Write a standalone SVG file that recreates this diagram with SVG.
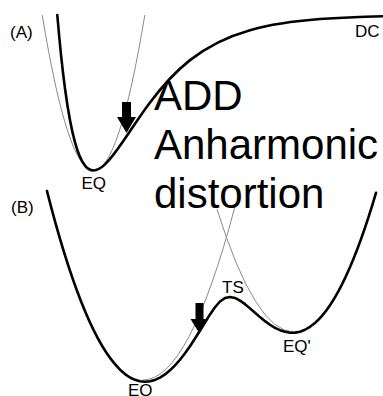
<svg xmlns="http://www.w3.org/2000/svg" width="383" height="396" viewBox="0 0 383 396">
<style>
.thin{fill:none;stroke:#8a8a8a;stroke-width:1}
.thick{fill:none;stroke:#000;stroke-width:2.6;stroke-linejoin:round;stroke-linecap:round}
.lbl{font-family:"Liberation Sans",Arial,sans-serif;font-size:17px;fill:#000}
.big{font-family:"Liberation Sans",Arial,sans-serif;font-size:42px;fill:#000}
.arr{fill:#000}
</style>
<rect width="383" height="396" fill="#fff"/>
<g id="panel-a">
<text class="lbl" x="10" y="38">(A)</text>
<path class="thin" d="M42.2,15 Q93.5,326 144.8,15"/>
<path class="thick" d="M57.3,15 C59.87,45.57 62.43,69.36 65,88.52 C68.33,113.4 71.67,130.36 75,142.39 C78.33,154.42 81.67,161.51 85,165.64 C87.83,169.15 90.67,170.5 93.5,170.5 C97.33,170.5 101.17,168.04 105,164.42 C111.67,158.12 118.33,148.44 125,138.6 C133.33,126.3 141.67,113.66 150,102.54 C163.33,84.75 176.67,70.68 190,60.14 C210,44.33 230,35.79 250,30.14 C273.33,23.55 296.67,20.83 320,19.04 C341,17.43 362,16.7 383,16.21"/>
<text class="lbl" x="81.5" y="189">EQ</text>
<text class="lbl" x="355" y="37">DC</text>
</g>
<g id="panel-b">
<text class="lbl" x="11" y="213">(B)</text>
<path class="thin" d="M143,380 Q189,380 235,206.5"/>
<path class="thin" d="M217,209.3 Q255.5,332 294,332"/>
<path class="thick" d="M47,191.1 Q81,324.9 115,364.1 L120,369.72 L125,374.08 L130,377.46 L135,379.85 L140,381.29 L145,381.76 L150,381.3 L155,379.91 L160,377.6 L165,374.4 L170,370.33 L175,365.43 L180,359.74 L185,353.31 L190,346.23 L195,338.58 L200,330.55 L205,322.38 L210,314.43 L215,307.23 L220,301.5 L225,297.95 L230,296.92 L235,297.94 L240,300.58 L245,304.17 L250,308.38 L255,312.8 L260,317.11 L265,321.15 L270,324.76 L275,327.81 L280,330.2 L285,331.84 L290,332.68 L295,332.64 L300,331.67 L305,329.75 L310,326.85 L315,322.9 Q345.5,296.35 376,192.8"/>
<text class="lbl" x="222" y="293">TS</text>
<text class="lbl" x="283" y="352">EQ'</text>
<text class="lbl" x="128" y="396">EQ</text>
</g>
<g id="connectors">
<polygon class="arr" points="122,102 131,102 131,117 136,117 126.5,133 117,117 122,117"/>
<polygon class="arr" points="195.5,303 203.5,303 203.5,319 208.5,319 199.5,333.5 190.5,319 195.5,319"/>
</g>
<g id="annotation">
<text class="big" x="154" y="110">ADD</text>
<text class="big" x="154" y="159">Anharmonic</text>
<text class="big" x="154" y="208">distortion</text>
</g>
</svg>
